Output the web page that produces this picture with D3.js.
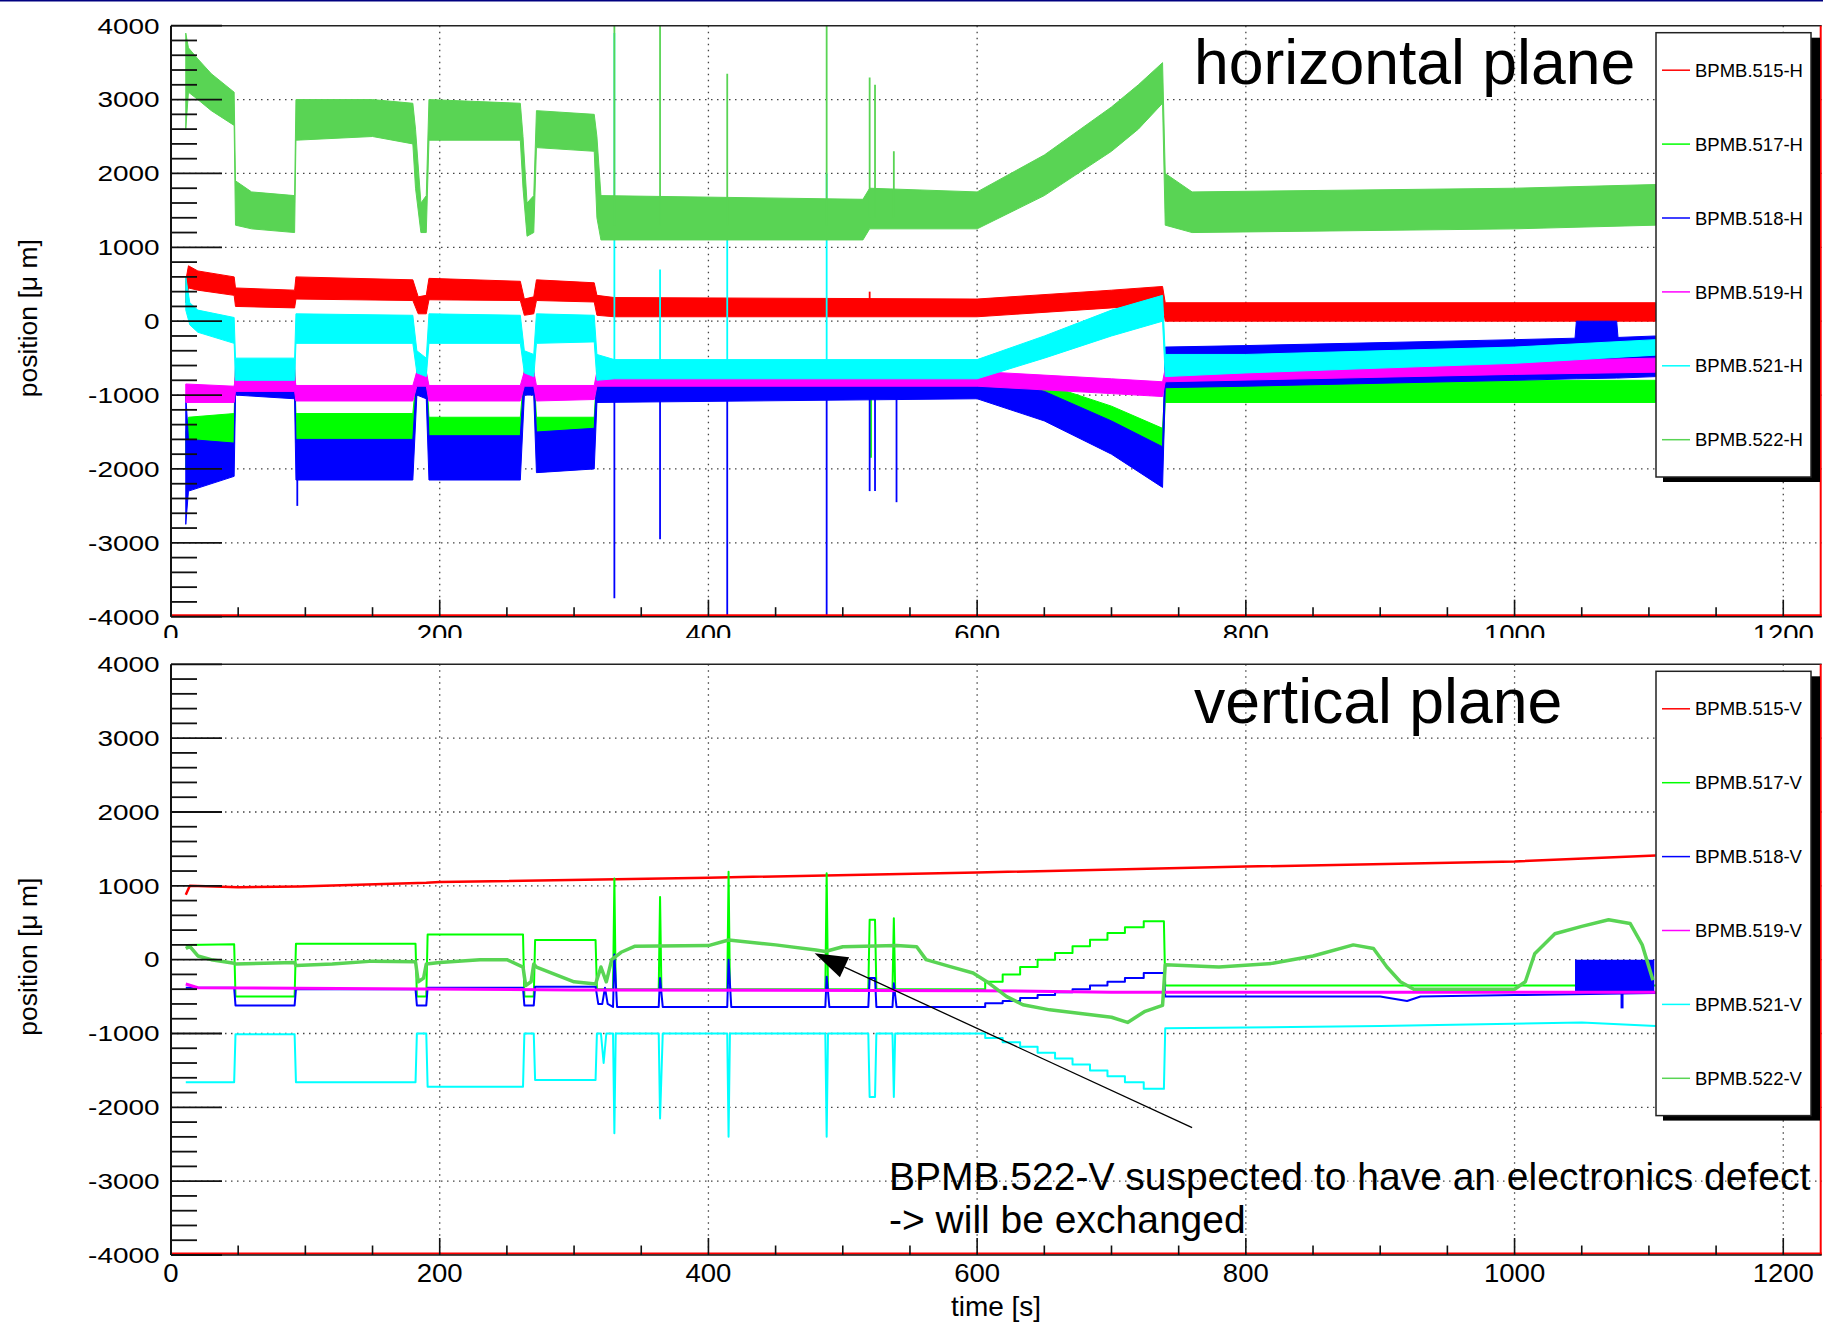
<!DOCTYPE html>
<meta charset="utf-8">
<script src="https://d3js.org/d3.v7.min.js"></script>
<style>
  body { margin: 0; background: #fff; }
  text { font-family: "Liberation Sans", Arial, Helvetica, sans-serif; fill: #000; }
</style>
<body>
<svg id="svg" width="1823" height="1322"></svg>
<script>
// ---------------- data (time [s], position [um]) ----------------
var seriesNames  = ["BPMB.515", "BPMB.517", "BPMB.518", "BPMB.519", "BPMB.521", "BPMB.522"];
var seriesColors = ["#ff0000", "#00ff00", "#0000ff", "#ff00ff", "#00ffff", "#59d454"];
var xTicks = [0, 200, 400, 600, 800, 1000, 1200];
var yTicks = [-4000, -3000, -2000, -1000, 0, 1000, 2000, 3000, 4000];
var xMax = 1228.6;

// horizontal plane: noisy traces read as envelopes [t, low, high]
var h515 = [[11,250,550],[13,450,750],[20,420,680],[47,350,600],[48,200,450],[92,180,420],[93,300,600],[180,280,560],[184,100,330],[190,100,350],[192,290,580],[260,280,540],[263,80,300],[270,100,330],[272,280,560],[315,260,520],[317,80,350],[330,60,320],[600,60,300],[700,180,420],[738,230,470],[740,0,250],[1105,0,250]];
var h517 = [[11,-2000,-1500],[13,-1750,-1300],[47,-1650,-1250],[48,-900,-650],[92,-900,-650],[93,-1650,-1250],[180,-1650,-1250],[183,-900,-650],[190,-900,-650],[192,-1700,-1300],[260,-1700,-1300],[263,-900,-650],[270,-900,-650],[272,-1650,-1300],[315,-1650,-1300],[317,-900,-650],[600,-900,-650],[650,-1100,-850],[700,-1450,-1150],[738,-1900,-1450],[740,-1100,-800],[1105,-1100,-800]];
var h518 = [[11,-2750,-1000],[13,-2300,-1600],[47,-2100,-1650],[48,-1000,-550],[92,-1050,-550],[93,-2150,-1600],[180,-2150,-1600],[183,-1000,-700],[190,-1050,-700],[192,-2150,-1550],[260,-2150,-1550],[263,-1000,-700],[270,-1000,-700],[272,-2050,-1500],[315,-2000,-1450],[317,-1100,-700],[600,-1050,-700],[650,-1350,-950],[700,-1800,-1350],[738,-2250,-1700],[740,-900,-350],[800,-880,-330],[1000,-800,-250],[1045,-780,-230],[1046,-780,0],[1076,-770,0],[1077,-770,-220],[1105,-750,-200]];
var h519 = [[11,-1100,-850],[47,-1100,-880],[48,-950,-750],[92,-950,-750],[93,-1080,-870],[180,-1080,-870],[183,-880,-680],[190,-880,-680],[192,-1080,-870],[260,-1080,-870],[263,-880,-680],[270,-880,-680],[272,-1080,-870],[315,-1060,-870],[317,-880,-680],[600,-880,-680],[700,-980,-780],[738,-1020,-820],[740,-820,-640],[1000,-720,-540],[1105,-690,-500]];
var h521 = [[11,150,600],[14,-50,250],[20,-150,150],[47,-300,50],[48,-800,-500],[92,-800,-500],[93,-300,100],[180,-300,80],[183,-700,-400],[190,-750,-500],[192,-300,100],[260,-300,80],[263,-700,-400],[270,-750,-450],[272,-300,100],[315,-280,80],[317,-800,-450],[330,-780,-520],[600,-780,-520],[650,-500,-200],[700,-200,150],[738,0,350],[740,-750,-450],[800,-700,-450],[1000,-570,-350],[1105,-460,-250]];
var h522 = [[11,2600,3900],[13,3100,3700],[20,3000,3550],[30,2850,3350],[47,2650,3100],[48,1300,1900],[60,1250,1750],[92,1200,1700],[93,2450,3000],[150,2500,3000],[180,2400,2950],[182,1800,2600],[186,1200,1600],[190,1200,1700],[192,2450,3000],[260,2450,2950],[262,1800,2500],[265,1150,1600],[270,1200,1700],[272,2350,2850],[315,2300,2800],[317,1400,2500],[320,1100,1700],[515,1100,1650],[520,1250,1800],[600,1250,1750],[650,1700,2250],[700,2300,2900],[720,2600,3200],[738,2950,3500],[740,1300,2000],[760,1200,1750],[1000,1250,1800],[1105,1300,1850]];

// single-sample spikes [t, from, to]
var h515Spikes = [[520,150,400]];
var h517Spikes = [[521,-1850,-800]];
var h518Spikes = [[94,-2500,-1700],[330,-3750,-800],[364,-2950,-800],[414,-4000,-800],[488,-4000,-800],[520,-2300,-800],[524,-2300,-800],[540,-2450,-800]];
var h519Spikes = [];
var h521Spikes = [[330,-700,3900],[364,-700,700],[414,-700,1400],[488,-700,2000]];
var h522Spikes = [[330,1300,4000],[364,1300,4000],[414,1300,3350],[488,1300,4000],[520,1400,3300],[524,1400,3200],[538,1400,2300]];

// vertical plane: traces [t, value]
var v515 = [[11,880],[14,1000],[50,980],[95,990],[190,1040],[200,1050],[400,1110],[600,1180],[800,1260],[1000,1330],[1105,1410]];
var v517Start = [[11,200],[47,210],[48,-500],[92,-500],[93,215],[182,215],[183,-500],[190,-500],[191,340],[262,340],[263,-500],[270,-500],[271,266],[316,266],[317,-400],[329,-400],[330,1100],[331,-400],[363,-400],[364,850],[365,-400],[414,-400],[415,1190],[416,-400],[487,-400],[488,1170],[489,-400],[519,-400],[520,540],[524,540],[525,-400],[537,-400],[538,560],[539,-400]];
var v517End = [[740,-350],[1105,-350]];
var v518Start = [[11,-380],[47,-380],[48,-620],[92,-620],[93,-400],[182,-400],[183,-620],[190,-620],[191,-380],[262,-380],[263,-620],[270,-620],[271,-366],[316,-366],[318,-600],[321,-600],[323,-380],[325,-600],[329,-640],[330,70],[332,-640],[363,-640],[364,-250],[366,-640],[414,-640],[415,0],[417,-640],[487,-640],[488,-230],[490,-640],[519,-640],[520,-250],[524,-250],[525,-640],[537,-640],[538,-320],[540,-640]];
var v518End = [[740,-500],[900,-500],[920,-560],[930,-500],[1000,-480],[1105,-450]];
var v518Block = [[1045,-450,0],[1104,-450,0]];
var v518Spikes = [[1080,-660,-450]];
var v519 = [[11,-330],[20,-380],[300,-410],[600,-420],[700,-440],[1105,-440]];
var v521Start = [[11,-1660],[47,-1660],[48,-1010],[92,-1010],[93,-1660],[182,-1660],[183,-1000],[190,-1000],[191,-1720],[262,-1720],[263,-1000],[270,-1000],[271,-1630],[316,-1630],[317,-1000],[320,-1000],[322,-1400],[324,-1000],[329,-1000],[330,-2350],[331,-1000],[363,-1000],[364,-2150],[366,-1000],[414,-1000],[415,-2400],[416,-1000],[487,-1000],[488,-2400],[489,-1000],[519,-1000],[520,-1860],[524,-1860],[525,-1000],[537,-1000],[538,-1860],[539,-1000]];
var v521End = [[740,-930],[900,-900],[1050,-850],[1105,-900]];
var v522 = [[11,150],[14,180],[20,50],[30,0],[47,-50],[48,-60],[92,-40],[93,-80],[120,-60],[150,-20],[182,-30],[184,-300],[188,-250],[190,-60],[200,-40],[230,0],[250,0],[262,-100],[264,-350],[268,-300],[270,-60],[272,-100],[300,-300],[316,-330],[320,-100],[324,-300],[328,0],[335,100],[345,180],[400,190],[415,266],[450,200],[480,130],[487,110],[500,175],[540,190],[555,175],[562,0],[580,-95],[597,-180],[609,-320],[622,-500],[634,-610],[654,-680],[700,-780],[712,-850],[725,-700],[738,-620],[740,-70],[780,-100],[820,-50],[850,50],[880,200],[895,150],[905,-100],[915,-300],[925,-400],[1000,-400],[1008,-300],[1015,80],[1030,350],[1050,450],[1070,540],[1086,490],[1095,200],[1103,-280]];

// staircase section (600 s - 739 s) of three vertical traces
var stairTimes = [600, 606, 619, 632, 645, 658, 671, 684, 697, 710, 724, 739];
var v517Stair = [-400, -300, -200, -100, 0, 90, 180, 270, 360, 440, 520];
var v518Stair = [-640, -590, -560, -520, -480, -440, -400, -350, -300, -250, -180];
var v521Stair = [-1000, -1060, -1120, -1180, -1260, -1340, -1420, -1500, -1580, -1660, -1750];

var annotationLines = ["BPMB.522-V suspected to have an electronics defect", "-> will be exchanged"];
var arrowTail = [760, -2276], arrowTip = [479, 86];

// ---------------- drawing ----------------
function steps(times, levels) {
  var out = [];
  levels.forEach(function(l, i) { out.push([times[i], l]); out.push([times[i + 1], l]); });
  return out;
}
var v517 = v517Start.concat(steps(stairTimes, v517Stair), v517End);
var v518 = v518Start.concat(steps(stairTimes, v518Stair), v518End);
var v521 = v521Start.concat(steps(stairTimes, v521Stair), v521End);

var hBands  = [h515, h517, h518, h519, h521, h522];
var hSpikes = [h515Spikes, h517Spikes, h518Spikes, h519Spikes, h521Spikes, h522Spikes];
var vLines  = [v515, v517, v518, v519, v521, v522];
var vWidths = [2.5, 2, 2, 3, 2, 3.5];

var W = 1823, H = 1322;
var svg = d3.select("#svg");
var x = d3.scaleLinear().domain([0, xMax]).range([171, 1821.7]);
var yTop = d3.scaleLinear().domain([-4000, 4000]).range([616.7, 25.7]);
var yBot = d3.scaleLinear().domain([-4000, 4000]).range([1255, 664.3]);

svg.append("rect").attr("width", W).attr("height", H).attr("fill", "#fff");

function panel(y, id) {
  var g = svg.append("g");
  var x0 = x.range()[0], x1 = x.range()[1], yT = y.range()[1], yB = y.range()[0];

  g.append("clipPath").attr("id", "clip" + id).append("rect")
    .attr("x", x0).attr("y", yT).attr("width", x1 - x0).attr("height", yB - yT);

  // grid
  g.selectAll(".hg").data(yTicks.filter(function(v) { return v > -4000 && v < 4000; }))
    .enter().append("line")
    .attr("x1", x0).attr("x2", x1).attr("y1", function(d) { return y(d); }).attr("y2", function(d) { return y(d); })
    .attr("stroke", "#444").attr("stroke-width", 1.3).attr("stroke-dasharray", "1.5,4.5");
  g.selectAll(".vg").data(xTicks.filter(function(t) { return t > 0; }))
    .enter().append("line")
    .attr("x1", function(d) { return x(d); }).attr("x2", function(d) { return x(d); })
    .attr("y1", yT).attr("y2", yB)
    .attr("stroke", "#444").attr("stroke-width", 1.3).attr("stroke-dasharray", "1.5,4.5");

  return g;
}

function decorate(g, y, id, suffix, title, titleBaseline) {
  var x0 = x.range()[0], x1 = x.range()[1], yT = y.range()[1], yB = y.range()[0];

  // frame: top dark, right + bottom red
  g.append("line").attr("x1", x0).attr("x2", x1).attr("y1", yT).attr("y2", yT).attr("stroke", "#222").attr("stroke-width", 1.5);
  g.append("line").attr("x1", x1 - 1).attr("x2", x1 - 1).attr("y1", yT).attr("y2", yB).attr("stroke", "#ff0000").attr("stroke-width", 2);
  g.append("line").attr("x1", x0).attr("x2", x1).attr("y1", yB - 1.5).attr("y2", yB - 1.5).attr("stroke", "#ff0000").attr("stroke-width", 2);

  // y axis ticks
  var minorY = d3.range(-4000, 4001, 200);
  g.selectAll(".ty").data(minorY).enter().append("line")
    .attr("x1", x0).attr("x2", function(d) { return d % 1000 === 0 ? x0 + 51 : x0 + 26; })
    .attr("y1", function(d) { return y(d); }).attr("y2", function(d) { return y(d); })
    .attr("stroke", "#111").attr("stroke-width", 1.8);
  // x axis ticks
  var minorX = d3.range(0, xMax, 50);
  g.selectAll(".tx").data(minorX).enter().append("line")
    .attr("x1", function(d) { return x(d); }).attr("x2", function(d) { return x(d); })
    .attr("y1", yB).attr("y2", function(d) { return d % 200 === 0 ? yB - 17 : yB - 9.5; })
    .attr("stroke", "#111").attr("stroke-width", 1.6);
  // axis lines
  g.append("line").attr("x1", x0).attr("x2", x0).attr("y1", yT).attr("y2", yB).attr("stroke", "#111").attr("stroke-width", 2);
  g.append("line").attr("x1", x0).attr("x2", x1).attr("y1", yB).attr("y2", yB).attr("stroke", "#111").attr("stroke-width", 1.5);

  // y tick labels
  g.selectAll(".ly").data(yTicks).enter().append("text")
    .attr("transform", function(d) { return "translate(159.5," + (y(d) + 7.8) + ") scale(1.27,1)"; })
    .attr("text-anchor", "end").attr("font-size", 22)
    .text(function(d) { return d; });
  // x tick labels
  g.selectAll(".lx").data(xTicks).enter().append("text")
    .attr("transform", function(d) { return "translate(" + x(d) + "," + (yB + 26.7) + ") scale(1.06,1)"; })
    .attr("text-anchor", "middle").attr("font-size", 26)
    .text(function(d) { return d; });

  // y title
  g.append("text")
    .attr("transform", "translate(37," + ((yT + yB) / 2 - 3) + ") rotate(-90)")
    .attr("text-anchor", "middle").attr("font-size", 26.5)
    .text("position [\u03bc m]");

  // plane title
  g.append("text").attr("x", 1194).attr("y", titleBaseline).attr("font-size", 62.5).text(title);

  // legend
  var lx = 1656, ly = yT + 7, lw = 155, lh = 444.3;
  g.append("rect").attr("x", lx + 7).attr("y", ly + 5).attr("width", lw + 2).attr("height", lh).attr("fill", "#000");
  g.append("rect").attr("x", lx).attr("y", ly).attr("width", lw).attr("height", lh)
    .attr("fill", "#fff").attr("stroke", "#222").attr("stroke-width", 1.5);
  var items = g.selectAll(".leg").data(seriesNames).enter().append("g")
    .attr("transform", function(d, i) { return "translate(0," + (ly + 37.5 + i * 73.9) + ")"; });
  items.append("line").attr("x1", lx + 6).attr("x2", lx + 34).attr("y1", 0).attr("y2", 0)
    .attr("stroke", function(d, i) { return seriesColors[i]; }).attr("stroke-width", 1.5);
  items.append("text").attr("x", lx + 39).attr("y", 6.6).attr("font-size", 18.5)
    .text(function(d) { return d + suffix; });
}

// ---- top panel: horizontal plane ----
var gTop = panel(yTop, "T");
var dTop = gTop.append("g").attr("clip-path", "url(#clipT)");
var band = d3.area()
  .x(function(d) { return x(d[0]); })
  .y0(function(d) { return yTop(d[1]); })
  .y1(function(d) { return yTop(d[2]); });
hBands.forEach(function(s, i) {
  dTop.append("path").attr("d", band(s)).attr("fill", seriesColors[i])
    .attr("stroke", seriesColors[i]).attr("stroke-width", 1);
  dTop.selectAll(null).data(hSpikes[i]).enter().append("line")
    .attr("x1", function(d) { return x(d[0]); }).attr("x2", function(d) { return x(d[0]); })
    .attr("y1", function(d) { return yTop(d[1]); }).attr("y2", function(d) { return yTop(d[2]); })
    .attr("stroke", seriesColors[i]).attr("stroke-width", 1.8);
});
decorate(gTop, yTop, "T", "-H", "horizontal plane", 84);

// bottom pad covers the lower part of the top x labels
svg.append("rect").attr("x", 0).attr("y", 638).attr("width", W).attr("height", H - 638).attr("fill", "#fff");

// ---- bottom panel: vertical plane ----
var gBot = panel(yBot, "B");
var dBot = gBot.append("g").attr("clip-path", "url(#clipB)");
var line = d3.line()
  .x(function(d) { return x(d[0]); })
  .y(function(d) { return yBot(d[1]); });
var bandB = d3.area()
  .x(function(d) { return x(d[0]); })
  .y0(function(d) { return yBot(d[1]); })
  .y1(function(d) { return yBot(d[2]); });
vLines.forEach(function(s, i) {
  if (i === 2) {
    dBot.append("path").attr("d", bandB(v518Block)).attr("fill", seriesColors[2]);
    dBot.selectAll(null).data(v518Spikes).enter().append("line")
      .attr("x1", function(d) { return x(d[0]); }).attr("x2", function(d) { return x(d[0]); })
      .attr("y1", function(d) { return yBot(d[1]); }).attr("y2", function(d) { return yBot(d[2]); })
      .attr("stroke", seriesColors[2]).attr("stroke-width", 3);
  }
  dBot.append("path").attr("d", line(s)).attr("fill", "none")
    .attr("stroke", seriesColors[i]).attr("stroke-width", vWidths[i])
    .attr("stroke-linejoin", "round");
});
decorate(gBot, yBot, "B", "-V", "vertical plane", 723);

// x title
svg.append("text").attr("x", 996).attr("y", 1316).attr("text-anchor", "middle")
  .attr("font-size", 28).text("time [s]");

// annotation arrow
var ax0 = x(arrowTail[0]), ay0 = yBot(arrowTail[1]);
var ax1 = x(arrowTip[0]), ay1 = yBot(arrowTip[1]);
var ang = Math.atan2(ay1 - ay0, ax1 - ax0);
var headLen = 33, headHalf = 11;
var bx = ax1 - headLen * Math.cos(ang), by = ay1 - headLen * Math.sin(ang);
svg.append("line").attr("x1", ax0).attr("y1", ay0).attr("x2", bx).attr("y2", by)
  .attr("stroke", "#000").attr("stroke-width", 1.3);
svg.append("path")
  .attr("d", "M" + ax1 + "," + ay1 +
    "L" + (bx + headHalf * Math.sin(ang)) + "," + (by - headHalf * Math.cos(ang)) +
    "L" + (bx - headHalf * Math.sin(ang)) + "," + (by + headHalf * Math.cos(ang)) + "Z")
  .attr("fill", "#000");

svg.selectAll(".ann").data(annotationLines).enter().append("text")
  .attr("x", 889).attr("y", function(d, i) { return 1190 + i * 43; })
  .attr("font-size", 39)
  .text(function(d) { return d; });

// thin navy rule along the very top
svg.append("rect").attr("width", W).attr("height", 1.5).attr("fill", "#000080");
</script>
</body>
